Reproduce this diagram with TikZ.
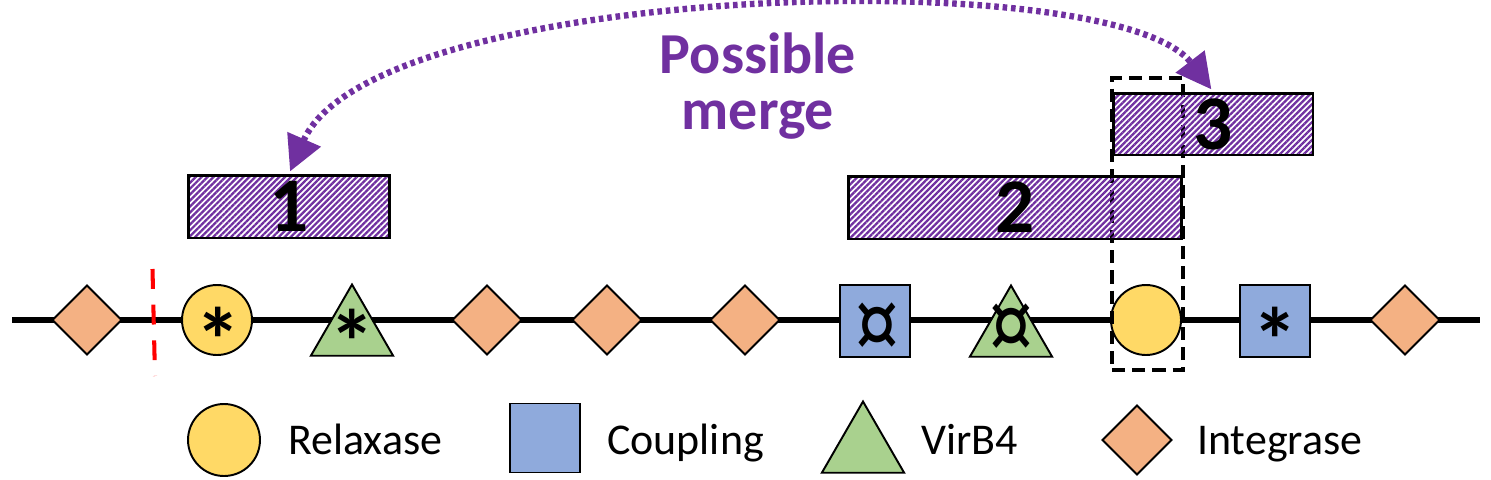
\documentclass[tikz,border=0pt]{standalone}
\usepackage{fontspec}
\setmainfont{Carlito}
\usetikzlibrary{shapes.geometric,arrows.meta,patterns.meta}
\definecolor{relaxfill}{HTML}{FFD966}
\definecolor{couplefill}{HTML}{8FAADC}
\definecolor{virbfill}{HTML}{A9D18E}
\definecolor{integfill}{HTML}{F4B183}
\definecolor{mergepurple}{HTML}{7030A0}

\begin{document}
\begin{tikzpicture}[x=0.02cm,y=-0.02cm,
  shapeline/.style={draw=black,line width=1.1pt,inner sep=0pt},
  relaxase/.style={shapeline,circle,fill=relaxfill,minimum size=1.4cm},
  coupling/.style={shapeline,rectangle,fill=couplefill,minimum width=1.4cm,minimum height=1.44cm},
  virbfour/.style={shapeline,regular polygon,regular polygon sides=3,fill=virbfill,minimum size=1.9cm},
  integrase/.style={shapeline,diamond,fill=integfill,minimum size=1.4cm},
  starmark/.style={inner sep=0pt,font=\fontsize{52}{52}\selectfont\bfseries},
  curmark/.style={inner sep=0pt,font=\fontsize{50}{50}\selectfont},
  hatchbox/.style={draw=black,line width=1.7pt,inner sep=0pt,
    pattern={Lines[angle=45,distance=2.4pt,line width=1.3pt]},pattern color=mergepurple,
    font=\fontsize{44}{44}\selectfont\bfseries},
  mergearrow/.style={draw=mergepurple,line width=3.6pt,dash pattern=on 2.6pt off 2.2pt,
    {Triangle[length=20pt,width=20pt]}-{Triangle[length=20pt,width=20pt]}},
  legendtext/.style={anchor=base west,font=\fontsize{25}{25}\selectfont}]
\useasboundingbox (0,0) rectangle (1491,480);
% backbone
\coordinate (lineL) at (12,320);
\coordinate (lineR) at (1480,320);
\draw[line width=3.3pt] (lineL) -- (lineR);
\coordinate (cutT) at (152.5,269);
\coordinate (cutB) at (155,376);
\draw[red,line width=2.3pt,dash pattern=on 11.3pt off 9pt] (cutT) -- (cutB);
% genes
\node[integrase] (int1) at (87,320) {};
\node[relaxase] (rel1) at (217,320) {};
\node[virbfour] (vir1) at (352,332) {};
\node[integrase] (int2) at (487,320) {};
\node[integrase] (int3) at (607,320) {};
\node[integrase] (int4) at (745,320) {};
\node[coupling] (cpl1) at (875,321) {};
\node[virbfour] (vir2) at (1011,333) {};
\node[relaxase] (rel2) at (1146,320) {};
\node[coupling] (cpl2) at (1275,321) {};
\node[integrase] (int5) at (1405,320) {};
\node[starmark] (rel1mark) at (218,340) {*};
\node[starmark] (vir1mark) at (352,342) {*};
\node[starmark] (cpl2mark) at (1275,340) {*};
\node[curmark] (cpl1mark) at (877,331) {\scalebox{1}[1.2]{¤}};
\node[curmark] (vir2mark) at (1011,332) {\scalebox{1}[1.2]{¤}};
\node[draw=black,line width=2.5pt,dash pattern=on 7.5pt off 4pt,minimum width=1.42cm,minimum height=5.84cm] (window) at (1147.5,224) {};
% regions
\node[hatchbox,minimum width=4.04cm,minimum height=1.26cm] (box1) at (289,206.5) {1};
\node[hatchbox,minimum width=6.68cm,minimum height=1.26cm] (box2) at (1015,207.5) {2};
\node[hatchbox,minimum width=4.0cm,minimum height=1.24cm] (box3) at (1213,124) {3};
\draw[mergearrow,shorten <=1.5pt,shorten >=1.5pt] (box1.north) .. controls (373,-18) and (1114,-38) .. (box3.north);
\node[mergepurple,align=center,font=\fontsize{33}{31.7}\selectfont\bfseries] (mergelabel) at (758,86) {Possible\\merge};
% legend
\node[relaxase,minimum size=1.44cm] (legrel) at (224,440) {};
\node[legendtext] (legreltext) at (282,454) {Relaxase};
\node[coupling,minimum height=1.38cm] (legcpl) at (545,438) {};
\node[legendtext] (legcpltext) at (601,454) {Coupling};
\node[virbfour] (legvir) at (863,449) {};
\node[legendtext] (legvirtext) at (915,454) {VirB4};
\node[integrase] (legint) at (1137,440) {};
\node[legendtext] (leginttext) at (1191,454) {Integrase};
\end{tikzpicture}
\end{document}
